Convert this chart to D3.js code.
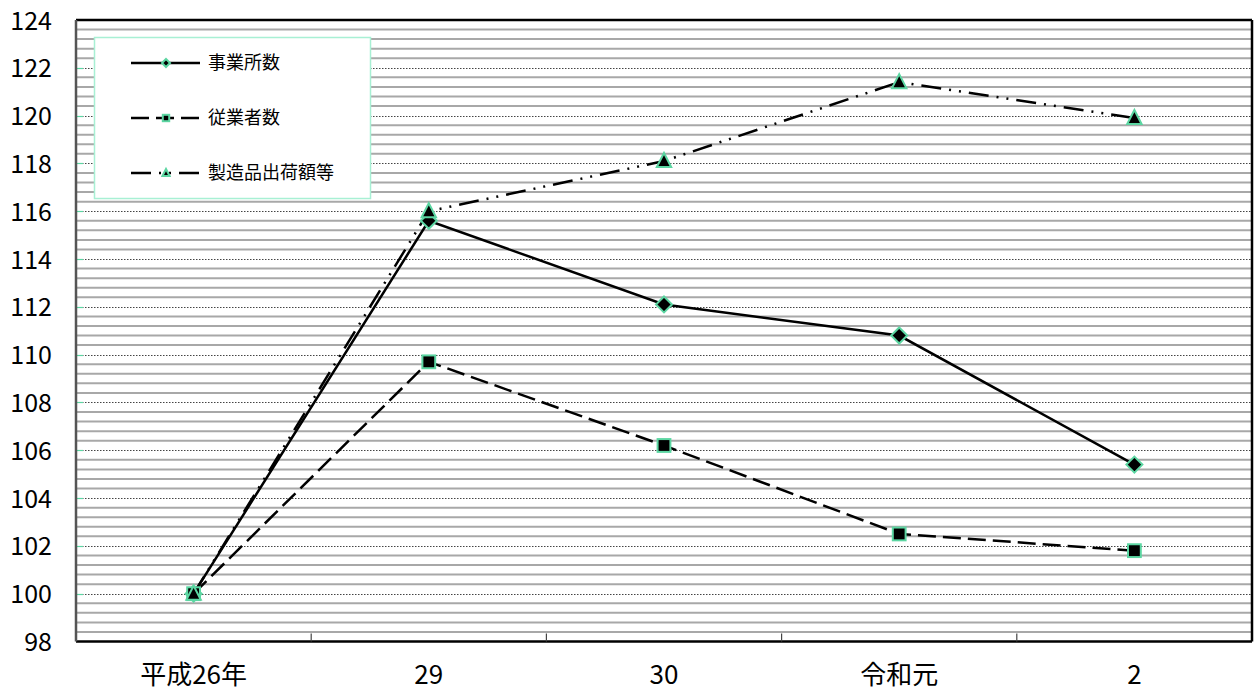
<!DOCTYPE html>
<html><head><meta charset="utf-8">
<script src="https://cdn.jsdelivr.net/npm/d3@7/dist/d3.min.js"></script>
<style>
html,body{margin:0;padding:0;background:#fff;}
svg{display:block;font-family:"Noto Sans CJK JP","Noto Sans",sans-serif;}
</style></head>
<body><svg id="c" width="1255" height="693"></svg>
<script>
const categories = ["平成26年", "29", "30", "令和元", "2"];
const seriesNames = ["事業所数", "従業者数", "製造品出荷額等"];
const establishments = [100, 115.6, 112.1, 110.8, 105.4];
const employees = [100, 109.7, 106.2, 102.5, 101.8];
const shipments = [100, 116.0, 118.1, 121.4, 119.9];
const yTicks = [98,100,102,104,106,108,110,112,114,116,118,120,122,124];

const svg = d3.select("#c");
const L = 76, R = 1252, T = 20, B = 641.5;
const x = d3.scaleBand().domain(categories).range([L, R]);
const cx = c => x(c) + x.bandwidth()/2;
const y = d3.scaleLinear().domain([98, 124]).range([B, T]);
const green = "#5cd6a2";

// background stripes (pattern)
const stripes = d3.range(0, 65).map(k => 98 + k*0.4).filter((v,i) => i % 5 !== 0 && v < 124);
svg.append("g").selectAll("line").data(stripes).join("line")
  .attr("x1", L).attr("x2", R).attr("y1", d => y(d)).attr("y2", d => y(d))
  .attr("stroke", "#a8a8a8").attr("stroke-width", 2);

// major dotted gridlines
svg.append("g").selectAll("line").data(yTicks.filter(v => v > 98 && v < 124)).join("line")
  .attr("x1", L).attr("x2", R).attr("y1", d => Math.round(y(d))+0.5).attr("y2", d => Math.round(y(d))+0.5)
  .attr("stroke", "#444").attr("stroke-width", 1).attr("stroke-dasharray", "1.5,1.5");
// green tick marks at left
svg.append("g").selectAll("line").data(yTicks.filter(v => v > 98 && v < 124)).join("line")
  .attr("x1", L).attr("x2", L+7).attr("y1", d => Math.round(y(d))+0.5).attr("y2", d => Math.round(y(d))+0.5)
  .attr("stroke", green).attr("stroke-width", 1.2);

// frame
svg.append("line").attr("x1", L).attr("x2", R).attr("y1", T).attr("y2", T).attr("stroke", "#000").attr("stroke-width", 2.5);
svg.append("line").attr("x1", R).attr("x2", R).attr("y1", T).attr("y2", B).attr("stroke", "#000").attr("stroke-width", 2.5);
svg.append("line").attr("x1", L).attr("x2", R).attr("y1", B).attr("y2", B).attr("stroke", "#000").attr("stroke-width", 2.5);
svg.append("line").attr("x1", L).attr("x2", L).attr("y1", T).attr("y2", B).attr("stroke", "#555").attr("stroke-width", 2.5);

// category ticks
svg.append("g").selectAll("line").data(categories.slice(1)).join("line")
  .attr("x1", d => x(d)).attr("x2", d => x(d)).attr("y1", B).attr("y2", B-8)
  .attr("stroke", "#444").attr("stroke-width", 1.2);

// y axis labels
const yAxis = d3.axisLeft(y).tickValues(yTicks).tickSize(0).tickPadding(24).tickFormat(d3.format("d"));
const yg = svg.append("g").attr("transform", `translate(${L},0)`).call(yAxis);
yg.select(".domain").remove();
yg.selectAll("text").attr("font-size", 25).attr("fill", "#000")
  .attr("font-family", '"Noto Sans CJK JP",sans-serif').attr("dy", "0.36em");

// x axis labels
const xAxis = d3.axisBottom(x).tickSize(0).tickPadding(0);
const xg = svg.append("g").attr("transform", `translate(0,${B})`).call(xAxis);
xg.select(".domain").remove();
xg.selectAll("text").attr("font-size", 26).attr("fill", "#000")
  .attr("font-family", '"Noto Sans CJK JP",sans-serif').attr("dy", null).attr("y", 42);

// lines
const line = d3.line().x((d,i) => cx(categories[i])).y(d => y(d));
const dashes = [null, "18,7", "20,8,2,8,2,8"];
const data = [establishments, employees, shipments];
data.forEach((s, k) => {
  svg.append("path").attr("d", line(s)).attr("fill", "none").attr("stroke", "#000")
    .attr("stroke-width", 2.5).attr("stroke-dasharray", dashes[k]);
});

function marker(g, k, px, py, sz) {
  if (k === 0) {
    g.append("path").attr("d", `M${px},${py-sz}L${px+sz},${py}L${px},${py+sz}L${px-sz},${py}Z`)
      .attr("fill", "#000").attr("stroke", green).attr("stroke-width", 2);
  } else if (k === 1) {
    g.append("rect").attr("x", px-sz*0.8).attr("y", py-sz*0.8).attr("width", sz*1.6).attr("height", sz*1.6)
      .attr("fill", "#000").attr("stroke", green).attr("stroke-width", 2);
  } else {
    g.append("path").attr("d", `M${px},${py-sz}L${px+sz*0.9},${py+sz*0.75}L${px-sz*0.9},${py+sz*0.75}Z`)
      .attr("fill", "#000").attr("stroke", green).attr("stroke-width", 2);
  }
}
const mg = svg.append("g");
data.forEach((s, k) => {
  s.forEach((v, i) => marker(mg, k, cx(categories[i]), y(v), 8));
});

// legend
const lg = svg.append("g");
lg.append("rect").attr("x", 94.5).attr("y", 37.5).attr("width", 276).attr("height", 161)
  .attr("fill", "#fff").attr("stroke", "#a8f0d4").attr("stroke-width", 1.5);
const rowsY = [63, 118, 173];
seriesNames.forEach((name, k) => {
  const yy = rowsY[k];
  lg.append("line").attr("x1", 131).attr("x2", 200).attr("y1", yy).attr("y2", yy)
    .attr("stroke", "#000").attr("stroke-width", 2.5).attr("stroke-dasharray", dashes[k]);
  marker(lg, k, 166, yy, 4);
  lg.append("text").attr("x", 208).attr("y", yy).attr("dy", "0.36em").attr("font-size", 18)
    .attr("font-family", '"Noto Sans CJK JP",sans-serif').attr("fill", "#000").text(name);
});
</script></body></html>
